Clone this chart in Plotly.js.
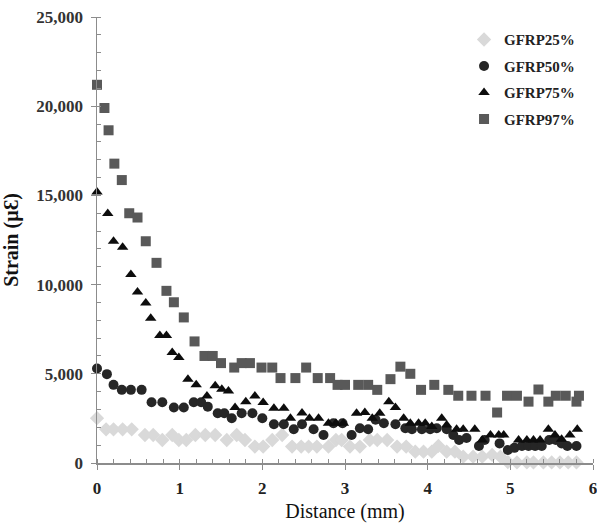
<!DOCTYPE html>
<html>
<head>
<meta charset="utf-8">
<script src="https://cdn.plot.ly/plotly-3.0.1.min.js"></script>
<style>html,body{margin:0;padding:0;background:#fff}#chart{width:597px;height:523px}</style>
</head>
<body>
<div id="chart"></div>
<script>
// GFRP25% (diamonds)
const x25 = [0,0.11,0.2,0.31,0.42,0.58,0.68,0.79,0.91,0.99,1.08,1.19,1.31,1.43,1.57,1.69,1.79,1.91,2.01,2.12,2.24,2.36,2.47,2.56,2.66,2.80,2.89,2.96,3.06,3.18,3.30,3.39,3.51,3.63,3.74,3.85,3.95,4.05,4.13,4.23,4.33,4.43,4.55,4.66,4.78,4.88,4.97,5.08,5.20,5.28,5.40,5.50,5.60,5.70,5.80];
const y25 = [2510,1890,1890,1890,1890,1570,1570,1290,1570,1290,1290,1570,1570,1570,1290,1570,1290,920,920,1290,1570,920,920,920,920,920,1290,1290,920,920,1290,1290,1290,920,920,635,635,635,955,635,635,354,354,354,450,354,50,30,30,30,30,30,30,30,30];
// GFRP50% (circles)
const x50 = [0,0.12,0.2,0.3,0.41,0.54,0.66,0.79,0.93,1.05,1.17,1.26,1.34,1.46,1.54,1.63,1.75,1.88,2.0,2.14,2.26,2.38,2.48,2.62,2.74,2.86,2.97,3.08,3.18,3.28,3.37,3.47,3.61,3.73,3.81,3.93,4.03,4.11,4.23,4.31,4.38,4.47,4.62,4.69,4.87,4.97,5.05,5.14,5.22,5.30,5.38,5.47,5.55,5.62,5.69,5.80];
const y50 = [5300,4980,4380,4100,4100,4100,3410,3410,3110,3110,3410,3410,3160,2790,2790,2510,2790,2790,2510,2170,2170,1890,2170,1890,1570,2230,2230,1570,1950,1890,2420,2230,2170,1950,1890,1890,1890,1950,1890,1570,1290,1400,955,1290,1100,730,850,955,955,955,955,1290,1290,1100,955,955];
// GFRP75% (triangles)
const x75 = [0,0.13,0.2,0.31,0.41,0.49,0.59,0.65,0.76,0.84,0.91,0.99,1.10,1.20,1.33,1.43,1.51,1.59,1.67,1.80,1.91,2.01,2.14,2.26,2.34,2.48,2.57,2.68,2.80,2.89,2.98,3.14,3.24,3.33,3.42,3.53,3.61,3.71,3.79,3.89,3.97,4.05,4.17,4.23,4.35,4.43,4.57,4.66,4.76,4.86,4.92,5.10,5.20,5.28,5.36,5.46,5.54,5.62,5.72,5.81];
const y75 = [15190,13990,12430,12100,10560,9590,8970,8110,7150,7150,6200,5920,4700,4380,3760,4330,4140,4040,3110,3440,3760,3390,3070,3070,2510,2800,2510,2510,2230,2230,2230,2790,2830,2510,2790,3440,3110,2510,2230,2230,2230,2040,2510,2130,1890,1890,1890,1290,1570,1570,1570,1290,1290,1290,1290,1890,1570,1330,1570,1890];
// GFRP97% (squares)
const x97 = [0,0.09,0.14,0.21,0.30,0.39,0.49,0.59,0.72,0.84,0.93,1.05,1.18,1.30,1.40,1.50,1.66,1.75,1.85,1.99,2.12,2.22,2.40,2.53,2.67,2.82,2.91,3.00,3.16,3.28,3.39,3.55,3.67,3.79,3.92,4.08,4.25,4.37,4.53,4.70,4.84,4.96,5.08,5.22,5.34,5.46,5.55,5.67,5.80,5.83];
const y97 = [21200,19900,18650,16780,15860,14000,13760,12430,11220,9650,9010,8160,6815,6000,6000,5600,5350,5600,5600,5350,5350,4760,4760,5350,4760,4760,4380,4380,4380,4380,4100,4700,5400,5000,4100,4380,4100,3770,3770,3770,2830,3770,3770,3440,4120,3440,3770,3770,3440,3770];

const names = ['GFRP25%','GFRP50%','GFRP75%','GFRP97%'];
const xTickVals = [0,1,2,3,4,5,6];
const yTickVals = [0,5000,10000,15000,20000,25000];

const serif = '"Liberation Serif", "Times New Roman", serif';
function tr(x, y, name, symbol, color, size) {
  return {x: x, y: y, name: name, legendgroup: name, type: 'scatter', mode: 'markers', cliponaxis: false,
    marker: {symbol: symbol, color: color, size: size, line: {width: 0}}};
}
const data = [
  tr(x25, y25, names[0], 'diamond', '#d9d9d9', 11),
  tr(x50, y50, names[1], 'circle', '#262626', 10),
  tr(x75, y75, names[2], 'triangle-up', '#0d0d0d', 10),
  tr(x97, y97, names[3], 'square', '#595959', 10)
];
const axisLine = '#8c8c8c';
const layout = {
  width: 597, height: 523,
  margin: {l: 97, r: 4, t: 17, b: 60},
  paper_bgcolor: '#fff', plot_bgcolor: '#fff',
  showlegend: true,
  legend: {x: 0.74, y: 0.986, xanchor: 'left', yanchor: 'top', bgcolor: 'rgba(0,0,0,0)',
    traceorder: 'grouped', tracegroupgap: 4,
    font: {family: serif, size: 15, color: '#222', weight: 'bold'}, itemwidth: 20},
  xaxis: {range: [0, 6], tickvals: xTickVals, ticktext: xTickVals.map(String),
    showgrid: false, zeroline: false, showline: true, linecolor: axisLine, linewidth: 1.5,
    ticks: 'outside', ticklen: 5, tickcolor: axisLine, tickwidth: 1, ticklabelstandoff: 4,
    ticklabeloverflow: 'allow',
    minor: {dtick: 0.2, ticks: 'inside', ticklen: 4, tickcolor: axisLine, showgrid: false},
    tickfont: {family: serif, size: 17, color: '#222', weight: 'bold'},
    title: {text: 'Distance (mm)', font: {family: serif, size: 20, color: '#111'}, standoff: 7}},
  yaxis: {range: [0, 25000], tickvals: yTickVals, tickformat: ',d',
    showgrid: false, zeroline: false, showline: true, linecolor: axisLine, linewidth: 1.5,
    ticks: 'outside', ticklen: 5, tickcolor: axisLine, tickwidth: 1, ticklabelstandoff: 4,
    ticklabeloverflow: 'allow',
    minor: {dtick: 1000, ticks: 'inside', ticklen: 4, tickcolor: axisLine, showgrid: false},
    tickfont: {family: serif, size: 17, color: '#333', weight: 'bold'},
    title: {text: 'Strain (µƐ)', font: {family: serif, size: 20, color: '#111', weight: 'bold'}, standoff: 12}}
};
Plotly.newPlot('chart', data, layout, {displayModeBar: false, staticPlot: true});
</script>
</body>
</html>
